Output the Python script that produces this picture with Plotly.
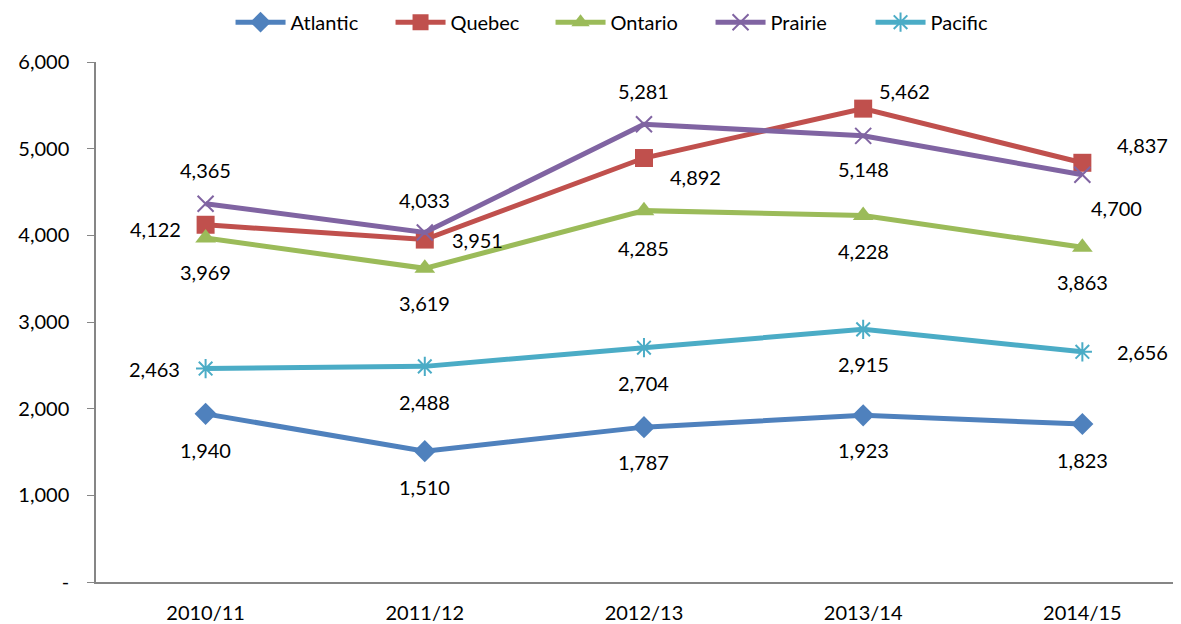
import plotly.graph_objects as go

categories = ["2010/11", "2011/12", "2012/13", "2013/14", "2014/15"]
atlantic = [1940, 1510, 1787, 1923, 1823]
quebec = [4122, 3951, 4892, 5462, 4837]
ontario = [3969, 3619, 4285, 4228, 3863]
prairie = [4365, 4033, 5281, 5148, 4700]
pacific = [2463, 2488, 2704, 2915, 2656]

y_tickvals = [0, 1000, 2000, 3000, 4000, 5000, 6000]
y_ticktext = ["-", "1,000", "2,000", "3,000", "4,000", "5,000", "6,000"]

FONT = "Lato, Open Sans, sans-serif"

series = [
    ("Atlantic", atlantic, "#4F81BD", "diamond", 17),
    ("Quebec", quebec, "#C0504D", "square", 18),
    ("Ontario", ontario, "#9BBB59", "triangle-up", 18),
    ("Prairie", prairie, "#8064A2", "x-thin-open", 16),
    ("Pacific", pacific, "#4BACC6", "asterisk-open", 16),
]

# label pixel offsets (dx, dy) relative to the point, dy positive = up
offsets = {
    "Atlantic": [(0, -36), (0, -36), (0, -35), (0, -35), (0, -36)],
    "Quebec": [(-50, -4), (53, 0), (52, -19), (41, 18), (60, 18)],
    "Ontario": [(0, -34), (0, -35), (0, -37), (0, -35), (0, -35)],
    "Prairie": [(0, 34), (0, 32), (0, 33), (0, -33), (34, -33)],
    "Pacific": [(-51, 0), (0, -36), (0, -35), (0, -35), (60, 0)],
}

fig = go.Figure()
annotations = []
for name, vals, color, sym, size in series:
    line_marker = dict(symbol=sym, size=size, color=color,
                       line=dict(color=color, width=2 if "open" in sym else 0))
    fig.add_trace(go.Scatter(
        x=categories, y=vals, name=name, mode="lines+markers",
        line=dict(color=color, width=5),
        marker=line_marker,
    ))
    for i, v in enumerate(vals):
        dx, dy = offsets[name][i]
        annotations.append(dict(
            x=categories[i], y=v, text=f"{v:,}", showarrow=False,
            xshift=dx, yshift=dy, xref="x", yref="y",
            font=dict(family=FONT, size=20, color="#000000"),
        ))

fig.update_layout(
    width=1173, height=616,
    margin=dict(l=88, r=0, t=54, b=42, autoexpand=False),
    paper_bgcolor="white", plot_bgcolor="white",
    font=dict(family=FONT, size=20, color="#000000"),
    legend=dict(orientation="h", x=0.124, xanchor="left",
                yref="container", y=0.977, yanchor="middle",
                font=dict(size=20), entrywidth=95, entrywidthmode="pixels",
                itemwidth=50, traceorder="normal"),
    annotations=annotations,
    showlegend=True,
)
fig.update_xaxes(
    type="category", range=[-0.5, 4.45],
    showline=True, linecolor="#868686", linewidth=1.5,
    showgrid=False, ticks="", ticklabelstandoff=12, zeroline=False,
)
fig.update_yaxes(
    range=[0, 6000], tickvals=y_tickvals, ticktext=y_ticktext,
    showline=True, linecolor="#868686", linewidth=1.5,
    ticks="outside", ticklen=7, tickcolor="#868686",
    showgrid=False, zeroline=False, ticklabelstandoff=14,
)

fig.write_html("out.html")
